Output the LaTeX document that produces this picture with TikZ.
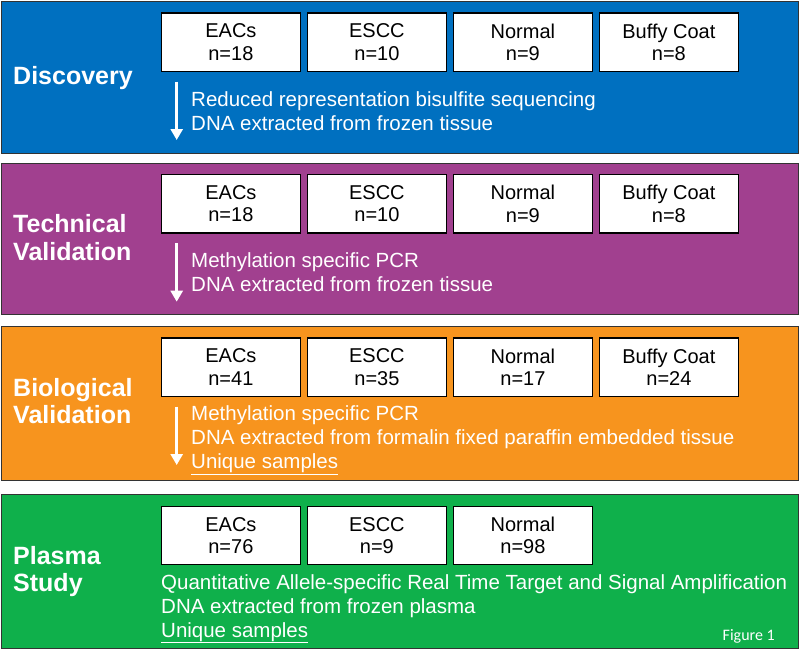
\documentclass[tikz,border=0pt]{standalone}
\usepackage{fontspec}
\setmainfont{Liberation Sans}
\newfontfamily\figfont{Carlito}
\usetikzlibrary{arrows.meta}
\definecolor{cblue}{HTML}{0070C0}
\definecolor{cpurple}{HTML}{A1408F}
\definecolor{corange}{HTML}{F7941E}
\definecolor{cgreen}{HTML}{0FB04B}
\begin{document}
\begin{tikzpicture}[x=1pt,y=-1pt,
  band/.style={draw=black!80, line width=1.3pt, inner sep=0pt, minimum width=797pt, anchor=north west},
  sbox/.style={draw=black, line width=1.3pt, fill=white, minimum width=139.5pt, minimum height=58.4pt, inner sep=0pt, anchor=north west, align=center, font=\fontsize{20}{22.5}\selectfont},
  lbl/.style={text=white, font=\fontsize{25}{28}\selectfont\bfseries, anchor=base west, inner sep=0pt},
  desc/.style={text=white, font=\fontsize{20.5}{24}\selectfont, anchor=base west, inner sep=0pt},
  flow/.style={white, line width=2.6pt, -{Triangle[width=12pt,length=11pt]}}
]
\useasboundingbox (0,0) rectangle (800,651);
% bands
\node[band, fill=cblue, minimum height=152pt] (b1) at (1,0.5) {};
\node[band, fill=cpurple, minimum height=151pt] (b2) at (1,163) {};
\node[band, fill=corange, minimum height=154pt] (b3) at (1,326) {};
\node[band, fill=cgreen, minimum height=154pt] (b4) at (1,494) {};
% labels
\node[lbl] (l1) at (13,84) {Discovery};
\node[lbl] (l2a) at (13,232) {Technical};
\node[lbl] (l2b) at (13,260.7) {Validation};
\node[lbl] (l3a) at (13,396.7) {Biological};
\node[lbl] (l3b) at (13,423.3) {Validation};
\node[lbl] (l4a) at (13,564) {Plasma};
\node[lbl] (l4b) at (13,591) {Study};
% band 1 boxes
\node[sbox] (a1) at (160.5,12.3) {EACs\\n=18};
\node[sbox] (a2) at (306.5,12.3) {ESCC\\n=10};
\node[sbox] (a3) at (452.5,12.3) {Normal\\n=9};
\node[sbox] (a4) at (598.5,12.3) {Buffy Coat\\n=8};
% band 2 boxes
\node[sbox] (c1) at (160.5,174) {EACs\\n=18};
\node[sbox] (c2) at (306.5,174) {ESCC\\n=10};
\node[sbox] (c3) at (452.5,174) {Normal\\n=9};
\node[sbox] (c4) at (598.5,174) {Buffy Coat\\n=8};
% band 3 boxes
\node[sbox] (d1) at (160.5,337.3) {EACs\\n=41};
\node[sbox] (d2) at (306.5,337.3) {ESCC\\n=35};
\node[sbox] (d3) at (452.5,337.3) {Normal\\n=17};
\node[sbox] (d4) at (598.5,337.3) {Buffy Coat\\n=24};
% band 4 boxes
\node[sbox] (e1) at (160.5,505.6) {EACs\\n=76};
\node[sbox] (e2) at (306.5,505.6) {ESCC\\n=9};
\node[sbox] (e3) at (452.5,505.6) {Normal\\n=98};
% arrows
\coordinate (s1) at (176.7,81.7); \coordinate (t1) at (176.7,140);
\coordinate (s2) at (176.7,243); \coordinate (t2) at (176.7,301.7);
\coordinate (s3) at (176.7,406.7); \coordinate (t3) at (176.7,465);
\draw[flow] (s1) -- (t1);
\draw[flow] (s2) -- (t2);
\draw[flow] (s3) -- (t3);
% descriptions
\node[desc] (m1a) at (191,106.3) {Reduced representation bisulfite sequencing};
\node[desc] (m1b) at (191,130.3) {DNA extracted from frozen tissue};
\node[desc] (m2a) at (191,267.5) {Methylation specific PCR};
\node[desc] (m2b) at (191,291.5) {DNA extracted from frozen tissue};
\node[desc] (m3a) at (191,420.3) {Methylation specific PCR};
\node[desc] (m3b) at (191,444.7) {DNA extracted from formalin fixed paraffin embedded tissue};
\node[desc] (m3c) at (191,468.7) {\underline{Unique samples}};
\node[desc] (m4a) at (161,589) {Quantitative Allele-specific Real Time Target and Signal Amplification};
\node[desc] (m4b) at (161,613) {DNA extracted from frozen plasma};
\node[desc] (m4c) at (161,637) {\underline{Unique samples}};
\node[text=white, font=\figfont\fontsize{16}{18}\selectfont, anchor=base west, inner sep=0pt] (fig) at (722.5,640) {Figure 1};
\end{tikzpicture}
\end{document}
